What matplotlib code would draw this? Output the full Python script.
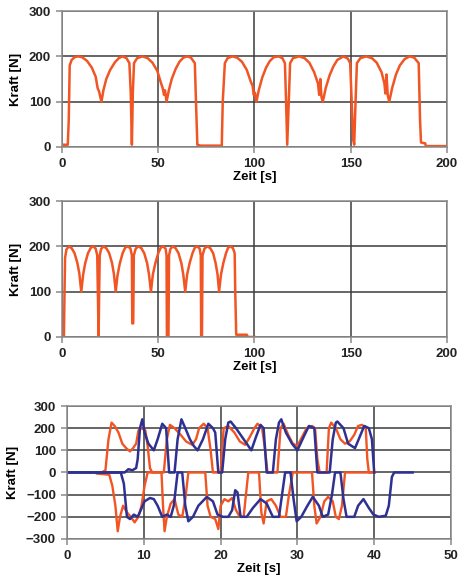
import matplotlib
matplotlib.use("Agg")
import matplotlib.pyplot as plt

orange = "#F05523"
blue = "#2E3192"

# --- Plot 1: Kraft ueber Zeit (0-200 s) ---
t1 = [0, 3.0, 3.5, 4.0, 5.0, 6.5, 8.3, 10.5, 13, 15.5, 17.5, 18.5, 19.3, 19.8, 20.5,
      21.5, 23, 25, 27.5, 29.5, 31.4, 33.5, 35.0, 35.7, 36.3, 36.8, 37.4, 39, 41.8,
      44.5, 47, 49.5, 51.5, 52.3, 53, 53.5, 54.3, 55.5, 57, 59, 61, 63, 65, 67, 69.0,
      69.6, 70.3, 72, 83.0, 83.5, 84.6, 86, 88.5, 91, 93.5, 96, 98, 99, 99.6, 100.2,
      101, 102.2, 104, 106, 108, 110, 112.4, 114.5, 115.8, 116.4, 117.0, 117.8, 118.5,
      120, 123.2, 126, 128.5, 131, 133, 133.6, 134.2, 134.8, 135.5, 137, 139, 141, 143,
      146.2, 148.5, 149.7, 150.5, 151.3, 151.8, 152.5, 153.2, 155, 158, 161, 163.5, 166,
      167.5, 168.0, 168.6, 169.2, 170, 171.5, 173.5, 175.5, 178, 180.6, 183, 185.3,
      186.0, 186.5, 188.7, 189, 200]
f1 = [5, 5, 60, 180, 192, 198, 200, 198, 190, 175, 155, 130, 122, 112, 100,
      125, 150, 170, 187, 196, 200, 196, 185, 120, 5, 120, 185, 196, 200,
      196, 186, 168, 140, 130, 115, 125, 100, 125, 150, 172, 188, 197, 200, 197, 185,
      100, 5, 3, 3, 100, 185, 196, 200, 197, 188, 170, 145, 135, 115, 120,
      100, 125, 153, 175, 190, 198, 200, 196, 185, 100, 5, 100, 185,
      196, 200, 196, 186, 165, 140, 115, 150, 110, 100, 130, 158, 178, 192,
      200, 195, 185, 100, 15, 5, 100, 185, 196, 200, 196, 186, 165,
      140, 118, 160, 115, 100, 130, 160, 180, 194, 200, 197, 185,
      60, 10, 8, 2, 2]

# --- Plot 2: Kraft ueber Zeit (0-100 s) ---
t2 = [0, 1.0, 1.3, 1.6, 2.3, 3.5, 5, 6.5, 8, 9, 10, 11, 12, 13.5, 15, 16.2, 17.5, 18.3,
      18.7, 19.0, 19.3, 19.6, 20.3, 21.5, 23, 24.5, 26, 27, 27.9, 28.8, 30, 31.5, 32.8,
      34, 35.5, 36.3, 36.5, 37.0, 37.3, 38.3, 39.7, 41.2, 42.7, 44.2, 45.2, 46.2, 47.2,
      48.5, 50, 51.3, 52.5, 53.8, 54.3, 54.5, 55.3, 55.6, 56.3, 57.5, 59, 60.5, 62, 63,
      64, 65, 66.3, 67.8, 69, 70.2, 71.5, 72.1, 72.3, 72.7, 73.0, 74, 75.5, 77, 78.5,
      79.8, 80.8, 81.6, 82.6, 83.8, 85.2, 86.3, 87.5, 88.8, 89.7, 90.0, 90.5, 96, 96.5,
      100]
f2 = [0, 0, 100, 175, 193, 200, 196, 185, 163, 140, 100, 138, 162, 185, 197, 200, 195, 180,
      80, 0, 100, 180, 194, 200, 196, 185, 163, 138, 100, 135, 162, 185, 197,
      200, 196, 180, 30, 30, 180, 195, 200, 196, 185, 163, 138, 100, 138,
      163, 185, 197, 200, 195, 180, 0, 0, 180, 194, 200, 196, 185, 163, 138,
      100, 138, 163, 185, 197, 200, 195, 180, 0, 0, 180, 195, 200, 196, 185,
      163, 138, 100, 138, 163, 185, 197, 200, 196, 185, 100, 5, 5, 0,
      0]

# --- Plot 3: Kraefte zweier Sensoren (0-50 s) ---
t_op = [4.5, 5.0, 5.4, 5.8, 6.2, 6.7, 7.2, 7.7, 8.2, 8.6, 9.0, 9.3, 9.7, 10.2, 10.5, 10.8,
        11.1, 12.6, 13.0, 13.4, 14.0, 14.8, 15.5, 16.3, 16.8, 17.2, 17.8, 18.3, 18.7, 19.0,
        20.0, 20.4, 21.0, 21.8, 22.5, 23.2, 23.8, 24.4, 24.8, 25.4, 25.8, 26.1, 27.4, 27.8,
        28.2, 28.8, 29.4, 30.0, 30.6, 31.2, 31.9, 32.3, 32.6, 32.9, 33.8, 34.1, 34.4, 35.0,
        35.6, 36.2, 36.8, 37.4, 37.9, 38.4, 38.9, 39.1, 39.3, 40.0]
f_op = [0, 10, 150, 225, 210, 180, 130, 110, 95, 110, 130, 190, 200, 190, 120, 20,
        0, 0, 150, 215, 200, 170, 140, 125, 150, 200, 220, 200, 100, 0,
        0, 200, 210, 180, 140, 125, 160, 200, 220, 200, 100, 0, 0, 200,
        220, 170, 130, 120, 160, 200, 210, 200, 60, 0, 0, 200, 225, 200,
        150, 130, 140, 170, 210, 215, 200, 60, 0, 0]

t_on = [3.9, 5.5, 5.9, 6.3, 6.6, 6.9, 7.3, 7.8, 8.3, 8.8, 9.3, 9.7, 10.1, 10.5, 12.3, 12.5,
        12.7, 13.0, 13.5, 14.0, 14.5, 15.0, 15.4, 15.8, 18.0, 18.3, 18.7, 19.3, 19.7, 20.0,
        20.5, 21.0, 21.5, 22.0, 22.5, 23.0, 23.3, 23.6, 25.0, 25.3, 25.6, 26.0, 26.6, 27.2,
        27.8, 28.5, 28.9, 29.4, 31.9, 32.2, 32.5, 33.0, 33.5, 34.0, 34.6, 35.0, 35.4, 35.8,
        36.2, 40.0]
f_on = [-5, -10, -60, -150, -265, -200, -150, -180, -200, -225, -200, -150, -60, 0, 0, -150,
        -265, -200, -140, -120, -190, -200, -120, 0, 0, -150, -200, -210, -255, -150,
        -120, -130, -115, -170, -200, -200, -100, 0, 0, -180, -230, -130, -120, -150,
        -200, -200, -100, 0, 0, -150, -230, -200, -130, -110, -130, -200, -210, -150,
        0, 0]

t_bp = [0, 7.5, 8.0, 8.5, 9.0, 9.2, 9.5, 9.8, 10.1, 10.6, 11.3, 11.8, 12.4, 12.9, 13.3,
        14.0, 14.4, 14.9, 15.4, 16.0, 16.5, 17.0, 17.7, 18.4, 19.0, 19.3, 19.7, 20.2, 20.6,
        21.0, 21.3, 22.0, 23.0, 24.0, 24.6, 25.2, 25.6, 26.0, 26.8, 27.2, 27.6, 27.9, 28.5,
        29.3, 30.0, 30.8, 31.5, 32.2, 32.6, 34.2, 34.6, 35.0, 35.2, 36.0, 36.6, 37.5, 38.1,
        38.7, 39.3, 39.7, 40.0]
f_bp = [0, 0, 15, 10, 20, 60, 200, 240, 180, 130, 100, 150, 220, 200, 0,
        0, 150, 240, 200, 150, 120, 100, 150, 220, 200, 180, 0, 0, 150,
        225, 230, 200, 150, 100, 160, 215, 200, 0, 0, 150, 225, 240, 180,
        130, 100, 160, 210, 200, 0, 0, 150, 225, 230, 200, 130, 110, 160,
        210, 200, 150, 0]

t_bn = [0, 7.0, 7.4, 7.8, 8.2, 8.7, 9.2, 9.6, 10.1, 10.8, 11.3, 11.8, 12.4, 13.0, 13.5,
        13.9, 14.4, 15.0, 15.4, 15.8, 16.4, 17.1, 18.2, 19.0, 19.6, 20.3, 21.0, 21.5, 21.9,
        22.2, 22.6, 23.4, 24.2, 25.2, 26.0, 26.8, 27.6, 28.0, 28.4, 29.1, 29.5, 29.9, 30.5,
        31.3, 32.0, 32.8, 33.3, 34.0, 34.5, 34.9, 35.6, 36.0, 36.4, 37.4, 37.9, 38.6, 39.3,
        39.9, 40.6, 41.5, 41.9, 42.3, 42.6, 45.0]
f_bn = [0, 0, -50, -200, -210, -190, -200, -170, -130, -115, -120, -150, -200, -190, -200,
        -150, 0, 0, -150, -220, -200, -150, -110, -130, -190, -200, -200, -170, -80,
        -90, -200, -200, -160, -120, -140, -200, -200, -100, 0, 0, -120, -220, -200,
        -150, -110, -150, -200, -190, -100, 0, 0, -120, -200, -200, -150, -120, -160,
        -190, -200, -195, -150, -20, 0, 0]

plt.rcParams['font.family'] = ['Liberation Sans', 'DejaVu Sans']

fig = plt.figure(figsize=(4.68, 5.81), dpi=100)
ax1 = fig.add_axes([0.1325, 0.747, 0.8226, 0.234])
ax2 = fig.add_axes([0.1325, 0.420, 0.8226, 0.234])
ax3 = fig.add_axes([0.1432, 0.0723, 0.8205, 0.2289])

ax1.plot(t1, f1, color=orange, lw=1.8)
ax2.plot(t2, f2, color=orange, lw=1.8)
ax3.plot(t_op, f_op, color=orange, lw=1.7)
ax3.plot(t_on, f_on, color=orange, lw=1.7)
ax3.plot(t_bp, f_bp, color=blue, lw=1.8)
ax3.plot(t_bn, f_bn, color=blue, lw=1.8)

for ax in (ax1, ax2):
    ax.set_xlim(0, 200)
    ax.set_ylim(0, 300)
    ax.set_xticks(range(0, 201, 50))
    ax.set_yticks(range(0, 301, 100))
ax3.set_xlim(0, 50)
ax3.set_ylim(-300, 300)
ax3.set_xticks(range(0, 51, 10))
ax3.set_yticks(range(-300, 301, 100))

for ax in (ax1, ax2, ax3):
    ax.grid(True, color="#3c3c3c", lw=1.1)
    ax.set_axisbelow(True)
    for s in ax.spines.values():
        s.set_color("#8a8a8a")
        s.set_linewidth(1.1)
    ax.tick_params(direction="out", length=4, width=1.1, color="#8a8a8a",
                   labelsize=9.5, labelcolor="#222222", pad=4)
    for lab in ax.get_xticklabels() + ax.get_yticklabels():
        lab.set_fontweight("bold")
    ax.set_xlabel("Zeit [s]", fontsize=9.5, fontweight="bold", labelpad=1)
    ax.set_ylabel("Kraft [N]", fontsize=9.5, fontweight="bold", labelpad=5)

fig.savefig("out.png", dpi=100)
